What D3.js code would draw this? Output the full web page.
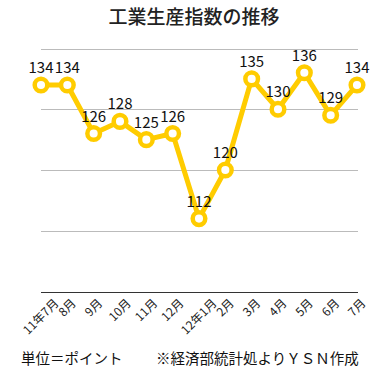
<!DOCTYPE html>
<html lang="ja">
<head>
  <meta charset="UTF-8" />
  <title>工業生産指数の推移</title>
  <script src="https://unpkg.com/d3@7/dist/d3.min.js"></script>
  <style>
    body {
      margin: 0;
      background: #fff;
      font-family: "Noto Sans CJK JP", "Noto Sans", sans-serif;
    }
    svg { display: block; }
    .grid line { stroke: #bbb; stroke-width: 1; }
    .tick-label { font-size: 12px; fill: #222; }
    .value-label { font-size: 15px; fill: #111; }
  </style>
</head>
<body>
  <svg id="chart" width="387" height="370"></svg>

  <script>
  const months = ["11年7月", "8月", "9月", "10月", "11月", "12月", "12年1月",
                  "2月", "3月", "4月", "5月", "6月", "7月"];
  const index  = [134, 134, 126, 128, 125, 126, 112, 120, 135, 130, 136, 129, 134];
  const gridTicks = [110, 120, 130, 140];

  const yellow = "#ffcc00";
  const svg = d3.select("#chart");

  const x = d3.scalePoint()
    .domain(months)
    .range([41, 357]);

  const y = d3.scaleLinear()
    .domain([100, 140])
    .range([291.5, 48.5]);

  // title
  svg.append("text")
    .attr("x", 194)
    .attr("y", 24)
    .attr("text-anchor", "middle")
    .style("font-size", "19px")
    .style("font-weight", "500")
    .style("fill", "#222")
    .text("工業生産指数の推移");

  // horizontal gridlines
  svg.append("g")
    .attr("class", "grid")
    .selectAll("line")
    .data(gridTicks)
    .join("line")
      .attr("x1", 41)
      .attr("x2", 358)
      .attr("y1", d => Math.round(y(d)) + 0.5)
      .attr("y2", d => Math.round(y(d)) + 0.5);

  // base axis
  svg.append("line")
    .attr("x1", 41)
    .attr("x2", 358)
    .attr("y1", Math.round(y(100)) + 0.5)
    .attr("y2", Math.round(y(100)) + 0.5)
    .attr("stroke", "#333")
    .attr("stroke-width", 1);

  // rotated month labels: bounding box top just under the axis, centred on the tick
  const labelTop = 296;
  svg.append("g")
    .selectAll("text")
    .data(months)
    .join("text")
      .attr("class", "tick-label")
      .attr("text-anchor", "middle")
      .attr("dominant-baseline", "central")
      .text(d => d)
      .attr("transform", function(d) {
        const len = this.getComputedTextLength();
        const half = (len + 12) * 0.7071 / 2;
        return `translate(${x(d) - 1},${labelTop + half}) rotate(-45)`;
      });

  // line
  const line = d3.line()
    .x((d, i) => x(months[i]))
    .y(d => y(d));

  svg.append("path")
    .datum(index)
    .attr("fill", "none")
    .attr("stroke", yellow)
    .attr("stroke-width", 5)
    .attr("stroke-linejoin", "round")
    .attr("d", line);

  // markers
  svg.append("g")
    .selectAll("circle")
    .data(index)
    .join("circle")
      .attr("cx", (d, i) => x(months[i]))
      .attr("cy", d => y(d))
      .attr("r", 6.3)
      .attr("fill", "#fff")
      .attr("stroke", yellow)
      .attr("stroke-width", 4.5);

  // value labels
  svg.append("g")
    .selectAll("text")
    .data(index)
    .join("text")
      .attr("class", "value-label")
      .attr("x", (d, i) => x(months[i]))
      .attr("y", d => y(d) - 12)
      .attr("text-anchor", "middle")
      .text(d => d);

  // footer
  svg.append("text")
    .attr("x", 21)
    .attr("y", 364)
    .style("font-size", "14.5px")
    .style("fill", "#111")
    .text("単位＝ポイント");

  svg.append("text")
    .attr("x", 156)
    .attr("y", 364)
    .style("font-size", "14.5px")
    .style("fill", "#111")
    .text("※経済部統計処よりＹＳＮ作成");
  </script>
</body>
</html>
